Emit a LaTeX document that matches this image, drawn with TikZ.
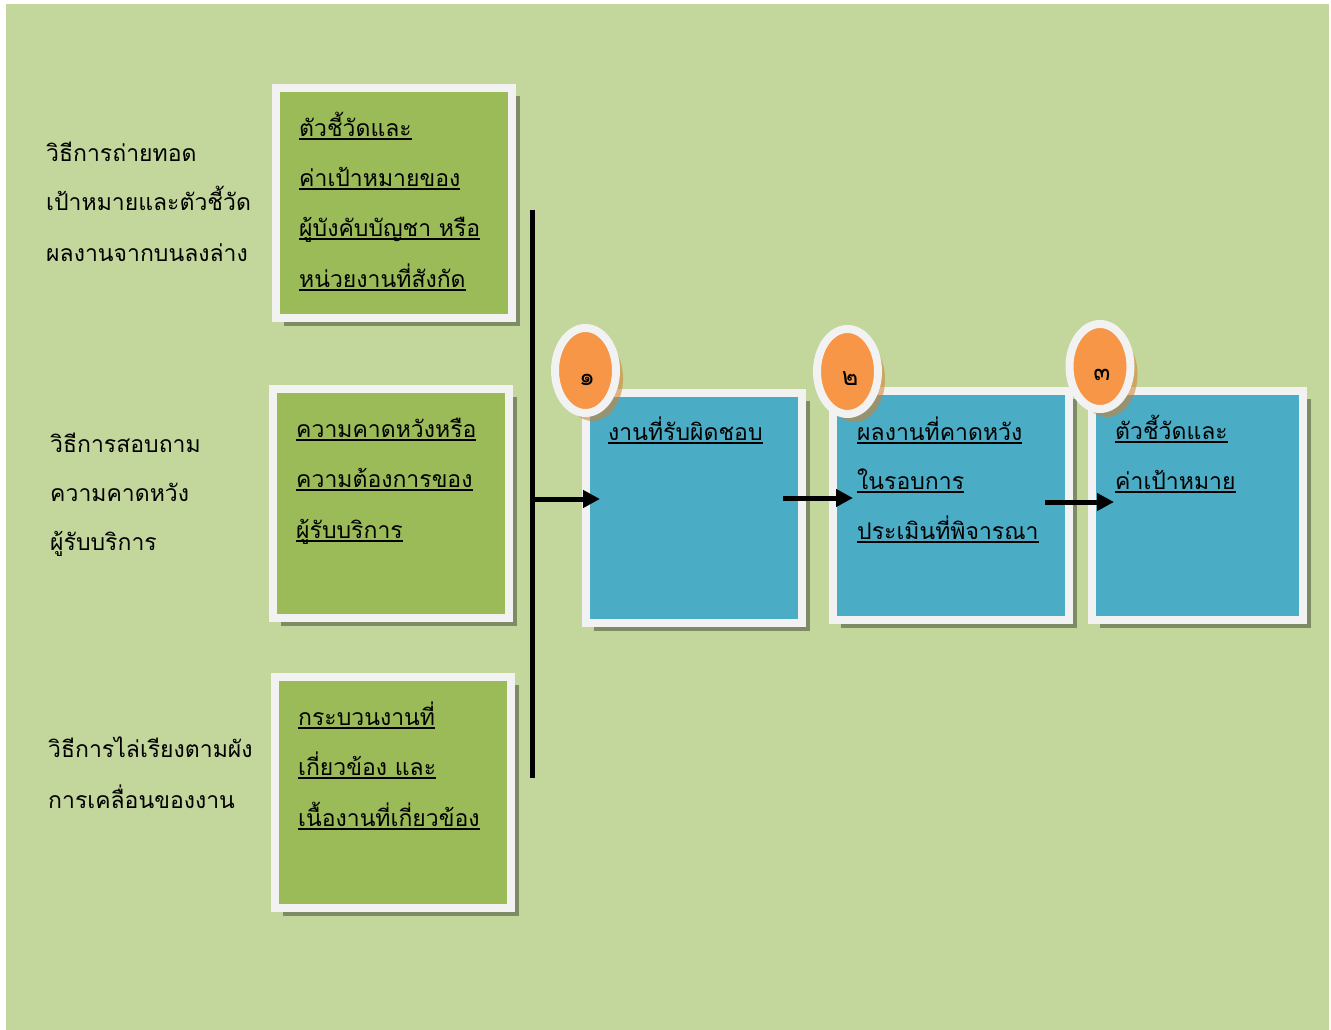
\documentclass[tikz,border=0pt]{standalone}
\usepackage{fontspec}
\newfontfamily\thai[Script=Thai]{Loma}
\usetikzlibrary{arrows.meta,shapes.geometric,shadows}
\definecolor{bgc}{HTML}{C3D69B}
\definecolor{grn}{HTML}{9BBB59}
\definecolor{blu}{HTML}{4BACC6}
\definecolor{org}{HTML}{F79646}
\definecolor{frm}{HTML}{F2F2F2}
\newcommand\ulx[1]{\setbox0=\hbox{#1}\rlap{\vrule height -1.5pt depth 3.5pt width \wd0}\box0}
\tikzset{
  frame box/.style={rectangle, draw=frm, line width=8pt, inner sep=0pt, outer sep=0pt,
    drop shadow={shadow xshift=8pt, shadow yshift=-8pt, opacity=.35, fill=black}},
  gbox/.style={frame box, fill=grn},
  bbox/.style={frame box, fill=blu},
  oval/.style={ellipse, draw=frm, line width=8pt, fill=org, inner sep=0pt,
    minimum width=61pt, minimum height=85pt,
    drop shadow={shadow xshift=7pt, shadow yshift=-8pt, opacity=.55, fill=brown!70!orange}},
  txt/.style={anchor=base west, inner sep=0pt, font=\thai\fontsize{23}{28}\selectfont},
  num/.style={inner sep=0pt, font=\thai\fontsize{25}{28}\selectfont},
  arr/.style={line width=5pt, -{Triangle[length=17pt,width=17pt]}},
}
\begin{document}
\begin{tikzpicture}[x=1pt,y=-1pt]
\useasboundingbox (0,0) rectangle (1331,1030);
\fill[white] (0,0) rectangle (1331,1030);
\fill[bgc] (6,4) rectangle (1329,1030);

% green boxes
\node[gbox, minimum width=236pt, minimum height=230pt] (g1) at (394,203) {};
\node[gbox, minimum width=236pt, minimum height=229pt] (g2) at (391,503.5) {};
\node[gbox, minimum width=236pt, minimum height=231pt] (g3) at (393,792.5) {};

% blue boxes
\node[bbox, minimum width=216pt, minimum height=230pt] (bA) at (694,508) {};
\node[bbox, minimum width=236pt, minimum height=229pt] (bB) at (951,505.5) {};
\node[bbox, minimum width=211pt, minimum height=229pt] (bC) at (1197.5,505.5) {};

% ovals
\node[oval] (o1) at (585.5,370.5) {};
\node[oval] (o2) at (847.5,371.5) {};
\node[oval] (o3) at (1100,366.5) {};
\node[num] (n1) at (587,380) {๑};
\node[num] (n2) at (850,379) {๒};
\node[num] (n3) at (1102,375) {๓};

% vertical bar and arrows
\coordinate (vtop) at (532,210);
\coordinate (vbot) at (532,778);
\draw[line width=5pt] (vtop) -- (vbot);
\coordinate (vmid) at (532,499);
\coordinate (tA) at (600,499);
\draw[arr] (vmid) -- (tA);
\coordinate (sA) at (783,498);
\coordinate (tB) at (853,498);
\draw[arr] (sA) -- (tB);
\coordinate (sB) at (1045,502);
\coordinate (tC) at (1114,502);
\draw[arr] (sB) -- (tC);

% left texts
\node[txt] (l11) at (46,161) {วิธีการถ่ายทอด};
\node[txt] (l12) at (46,211) {เป้าหมายและตัวชี้วัด};
\node[txt] (l13) at (46,261) {ผลงานจากบนลงล่าง};
\node[txt] (l21) at (50,452) {วิธีการสอบถาม};
\node[txt] (l22) at (50,501) {ความคาดหวัง};
\node[txt] (l23) at (50,550) {ผู้รับบริการ};
\node[txt] (l31) at (48,757) {วิธีการไล่เรียงตามผัง};
\node[txt] (l32) at (48,808) {การเคลื่อนของงาน};

% green box texts
\node[txt] (g1a) at (299,136.5) {\ulx{ตัวชี้วัดและ}};
\node[txt] (g1b) at (299,186.5) {\ulx{ค่าเป้าหมายของ}};
\node[txt] (g1c) at (299,236.5) {\ulx{ผู้บังคับบัญชา หรือ}};
\node[txt] (g1d) at (299,287.5) {\ulx{หน่วยงานที่สังกัด}};
\node[txt] (g2a) at (296,437.5) {\ulx{ความคาดหวังหรือ}};
\node[txt] (g2b) at (296,487.5) {\ulx{ความต้องการของ}};
\node[txt] (g2c) at (296,538.5) {\ulx{ผู้รับบริการ}};
\node[txt] (g3a) at (298,725.5) {\ulx{กระบวนงานที่}};
\node[txt] (g3b) at (298,775.5) {\ulx{เกี่ยวข้อง และ}};
\node[txt] (g3c) at (298,826.5) {\ulx{เนื้องานที่เกี่ยวข้อง}};

% blue box texts
\node[txt] (bAa) at (608,440.5) {\ulx{งานที่รับผิดชอบ}};
\node[txt] (bBa) at (857,440.5) {\ulx{ผลงานที่คาดหวัง}};
\node[txt] (bBb) at (857,489.5) {\ulx{ในรอบการ}};
\node[txt] (bBc) at (857,539.5) {\ulx{ประเมินที่พิจารณา}};
\node[txt] (bCa) at (1115,439.5) {\ulx{ตัวชี้วัดและ}};
\node[txt] (bCb) at (1115,489.5) {\ulx{ค่าเป้าหมาย}};
\end{tikzpicture}
\end{document}
